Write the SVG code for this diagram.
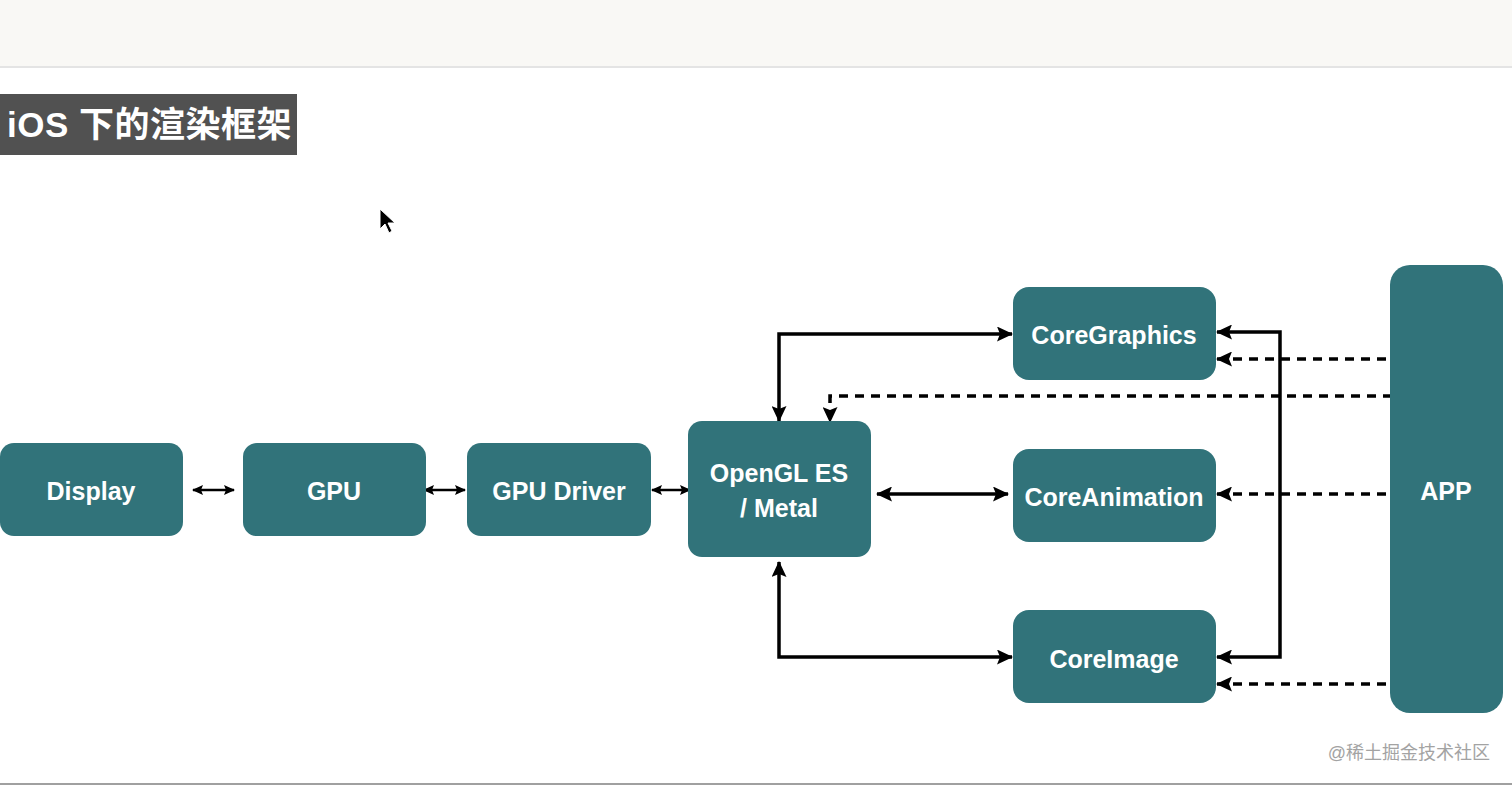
<svg xmlns="http://www.w3.org/2000/svg" width="1512" height="785" viewBox="0 0 1512 785">
  <style>
    .node { fill: #31737a; }
    .lbl { fill: #ffffff; font-family: "Liberation Sans", Arial, sans-serif; font-weight: bold; font-size: 25px; text-anchor: middle; }
    .conn { fill: none; stroke: #000; stroke-width: 3.5; }
    .dash { fill: none; stroke: #000; stroke-width: 3.5; stroke-dasharray: 9 7; }
    .small { fill: none; stroke: #000; stroke-width: 2.5; }
  </style>
  <defs>
    <marker id="arr" viewBox="0 0 16 15" refX="15" refY="7.5" markerWidth="16" markerHeight="15" markerUnits="userSpaceOnUse" orient="auto-start-reverse">
      <path d="M0,0 L16,7.5 L0,15 L3,7.5 Z" fill="#000"/>
    </marker>
    <marker id="sarr" viewBox="0 0 11 10" refX="10" refY="5" markerWidth="11" markerHeight="10" markerUnits="userSpaceOnUse" orient="auto-start-reverse">
      <path d="M0,0 L11,5 L0,10 L2,5 Z" fill="#000"/>
    </marker>
  </defs>

  <rect x="0" y="0" width="1512" height="785" fill="#ffffff"/>
  <rect x="0" y="0" width="1512" height="66" fill="#f9f8f5"/>
  <line x1="0" y1="67" x2="1512" y2="67" stroke="#e4e4e4" stroke-width="2"/>
  <line x1="0" y1="784" x2="1512" y2="784" stroke="#a0a0a0" stroke-width="2"/>

  <g id="title">
    <rect x="0" y="94" width="297" height="61" fill="#515151"/>
    <text x="7" y="137" fill="#ffffff" font-family="Liberation Sans, 'Noto Sans CJK SC', sans-serif" font-weight="bold" font-size="35" letter-spacing="0.5">iOS 下的渲染框架</text>
  </g>

  <g id="cursor">
    <path d="M380,209 L380,229 L385,224 L389,233 L392,231 L388,223 L395,223 Z" fill="#000" stroke="#fff" stroke-width="1"/>
  </g>

  <g id="connectors">
    <path class="small" d="M193,490 H234" marker-start="url(#sarr)" marker-end="url(#sarr)"/>
    <path class="small" d="M424,490 H465" marker-start="url(#sarr)" marker-end="url(#sarr)"/>
    <path class="small" d="M652,490 H690" marker-start="url(#sarr)" marker-end="url(#sarr)"/>
    <path class="conn" d="M877,494 H1008" marker-start="url(#arr)" marker-end="url(#arr)"/>
    <path class="conn" d="M779,421 V334 H1012" marker-start="url(#arr)" marker-end="url(#arr)"/>
    <path class="conn" d="M779,562 V657 H1012" marker-start="url(#arr)" marker-end="url(#arr)"/>
    <path class="conn" d="M1217,332 H1280 V657 H1217" marker-start="url(#arr)" marker-end="url(#arr)"/>
    <path class="dash" d="M1386,359 H1217" marker-end="url(#arr)"/>
    <path class="dash" d="M1386,494 H1217" marker-end="url(#arr)"/>
    <path class="dash" d="M1386,684 H1217" marker-end="url(#arr)"/>
    <path class="dash" d="M1392,396 H830 V422" marker-end="url(#arr)"/>
  </g>

  <g id="display">
    <rect class="node" x="0" y="443" width="183" height="93" rx="14"/>
    <text class="lbl" x="91" y="500">Display</text>
  </g>
  <g id="gpu">
    <rect class="node" x="243" y="443" width="183" height="93" rx="14"/>
    <text class="lbl" x="334" y="500">GPU</text>
  </g>
  <g id="gpu-driver">
    <rect class="node" x="467" y="443" width="184" height="93" rx="14"/>
    <text class="lbl" x="559" y="500">GPU Driver</text>
  </g>
  <g id="opengl">
    <rect class="node" x="688" y="421" width="183" height="136" rx="14"/>
    <text class="lbl" x="779" y="482">OpenGL ES</text>
    <text class="lbl" x="779" y="517">/ Metal</text>
  </g>
  <g id="coregraphics">
    <rect class="node" x="1013" y="287" width="203" height="93" rx="16"/>
    <text class="lbl" x="1114" y="344">CoreGraphics</text>
  </g>
  <g id="coreanimation">
    <rect class="node" x="1013" y="449" width="203" height="93" rx="16"/>
    <text class="lbl" x="1114" y="506">CoreAnimation</text>
  </g>
  <g id="coreimage">
    <rect class="node" x="1013" y="610" width="203" height="93" rx="16"/>
    <text class="lbl" x="1114" y="668">CoreImage</text>
  </g>
  <g id="app">
    <rect class="node" x="1390" y="265" width="113" height="448" rx="20"/>
    <text class="lbl" x="1446" y="500">APP</text>
  </g>

  <text x="1490" y="759" text-anchor="end" fill="#a3a3a3" font-family="Liberation Sans, 'Noto Sans CJK SC', sans-serif" font-size="18">@稀土掘金技术社区</text>
</svg>
